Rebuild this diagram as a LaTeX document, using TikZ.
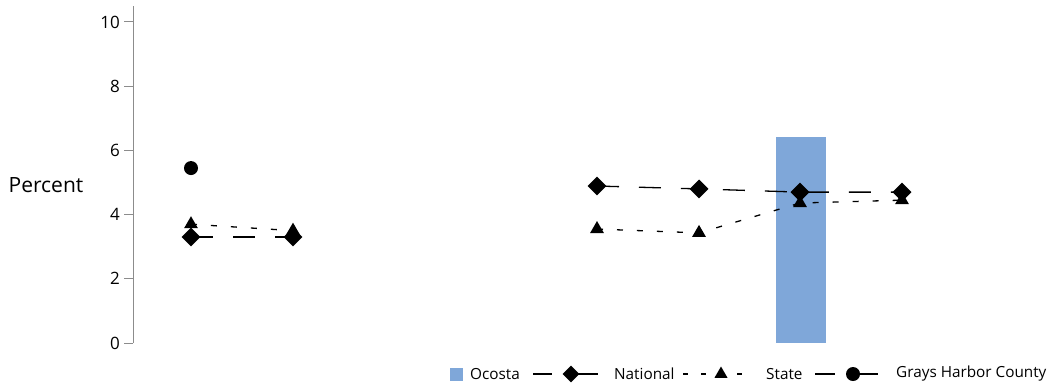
\documentclass[tikz,border=0pt]{standalone}
\usepackage{fontspec}
\setmainfont{Open Sans}
\usetikzlibrary{shapes.geometric}

\definecolor{barblue}{RGB}{127,167,217}
\definecolor{axisgray}{RGB}{140,140,140}

\tikzset{
  natmark/.style={diamond, fill=black, inner sep=0pt, minimum size=19pt},
  statemark/.style={regular polygon, regular polygon sides=3, fill=black, inner sep=0pt, minimum size=16pt},
  countymark/.style={circle, fill=black, inner sep=0pt, minimum size=14pt},
  natline/.style={line width=1.3pt, dash pattern=on 22pt off 20pt},
  stateline/.style={line width=1.3pt, dash pattern=on 6pt off 14pt},
  ticklabel/.style={anchor=east, font=\fontsize{17}{20}\selectfont, inner sep=0pt},
  legendtext/.style={anchor=west, font=\fontsize{15.3}{18}\selectfont, inner sep=0pt}
}

\begin{document}
\begin{tikzpicture}[x=1pt, y=32.1pt]
\useasboundingbox (0,-1.3396) rectangle (1047,10.6854);

\fill[barblue] (776,0) rectangle (826,6.42);

\draw[axisgray, line width=1pt] (133,0) -- (133,10.5);
\foreach \v in {0,2,...,10} {
  \draw[axisgray, line width=1pt] (124,\v) -- (133,\v);
  \node[ticklabel] (tick\v) at (120,\v) {\v};
}
\node[font=\fontsize{21}{24}\selectfont, inner sep=0pt] (ylabel) at (46,4.92) {Percent};

\coordinate (n1) at (191,3.3);
\coordinate (n2) at (293,3.3);
\coordinate (n5) at (597,4.89);
\coordinate (n6) at (699,4.8);
\coordinate (n7) at (800,4.7);
\coordinate (n8) at (902,4.7);
\coordinate (s1) at (191,3.7);
\coordinate (s2) at (293,3.5);
\coordinate (s5) at (597,3.55);
\coordinate (s6) at (699,3.43);
\coordinate (s7) at (800,4.36);
\coordinate (s8) at (902,4.45);
\coordinate (c1) at (191,5.45);

\draw[natline] (n1) -- (n2);
\draw[natline] (n5) -- (n6) -- (n7) -- (n8);
\draw[stateline] (s1) -- (s2);
\draw[stateline] (s5) -- (s6) -- (s7) -- (s8);

\foreach \p in {1,2,5,6,7,8} {
  \node[statemark] (s\p m) at (s\p) {};
}
\foreach \p in {1,2,5,6,7,8} {
  \node[natmark] (n\p m) at (n\p) {};
}
\node[countymark] (c1m) at (c1) {};

% legend
\fill[barblue] (450,-1.17) rectangle (463,-0.765);
\node[legendtext] (lgbar) at (470,-0.966) {Ocosta};
\coordinate (lgn1) at (533,-0.966);
\coordinate (lgn2) at (598,-0.966);
\draw[line width=1.3pt, dash pattern=on 19pt off 19pt on 27pt off 1pt] (lgn1) -- (lgn2);
\node[natmark, minimum size=17pt] (lgnm) at (571,-0.966) {};
\node[legendtext] (lgnat) at (614,-0.966) {National};
\coordinate (lgs1) at (683,-0.966);
\coordinate (lgs2) at (750,-0.966);
\draw[line width=1.3pt, dash pattern=on 5pt off 13pt] (lgs1) -- (lgs2);
\node[statemark, minimum size=15pt] (lgsm) at (721,-0.966) {};
\node[legendtext] (lgstate) at (766,-0.966) {State};
\coordinate (lgc1) at (815,-0.966);
\coordinate (lgc2) at (878,-0.966);
\draw[line width=1.3pt, dash pattern=on 20pt off 18pt on 25pt off 1pt] (lgc1) -- (lgc2);
\node[countymark] (lgcm) at (853,-0.966) {};
\node[legendtext] (lgcounty) at (896,-0.966) {Grays Harbor County};
\end{tikzpicture}
\end{document}
